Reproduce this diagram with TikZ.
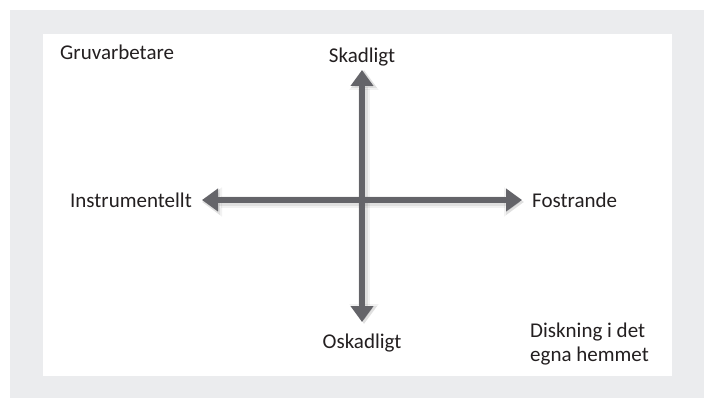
\documentclass[tikz,border=0pt]{standalone}
\usepackage{fontspec}
\setmainfont{Carlito}
\usetikzlibrary{arrows.meta}
\definecolor{bggrey}{HTML}{EBECEE}
\definecolor{axisgrey}{HTML}{646469}
\definecolor{txt}{HTML}{231F20}
\tikzset{
  lbl/.style={font=\fontsize{21}{24}\selectfont, text=txt, inner sep=0pt},
  axis/.style={draw=axisgrey, line width=6pt,
    {Triangle[width=22pt,length=16pt]}-{Triangle[width=22pt,length=16pt]}},
  axisshadowA/.style={draw=black, opacity=0.05, line width=12pt,
    {Triangle[width=28pt,length=20pt]}-{Triangle[width=28pt,length=20pt]}},
  axisshadowB/.style={draw=black, opacity=0.07, line width=8pt,
    {Triangle[width=25pt,length=18pt]}-{Triangle[width=25pt,length=18pt]}}
}
\begin{document}
\begin{tikzpicture}[x=1pt,y=-1pt]
\useasboundingbox (0,0) rectangle (704,398);
\fill[white] (0,0) rectangle (704,398);
\fill[bggrey] (10,10) rectangle (704,398);
\fill[white] (43,34) rectangle (672,376);
\coordinate (vt) at (362,70);
\coordinate (vb) at (362,322);
\coordinate (hl) at (202,200);
\coordinate (hr) at (522,200);
\coordinate (vts) at (364,70);
\coordinate (vbs) at (364,324);
\coordinate (hls) at (202,202);
\coordinate (hrs) at (524,202);
\draw[axisshadowA] (vts) -- (vbs);
\draw[axisshadowA] (hls) -- (hrs);
\draw[axisshadowB] (vts) -- (vbs);
\draw[axisshadowB] (hls) -- (hrs);
\draw[axis] (vt) -- (vb);
\draw[axis] (hl) -- (hr);
\node[lbl, anchor=west] (gruv) at (60,52) {Gruvarbetare};
\node[lbl] (skad) at (362,57) {Skadligt};
\node[lbl, anchor=east] (instr) at (192,200) {Instrumentellt};
\node[lbl, anchor=west] (fost) at (532,200) {Fostrande};
\node[lbl] (oskad) at (362,343) {Oskadligt};
\node[lbl, anchor=north west, align=left] (disk) at (530,323) {Diskning i det\\egna hemmet};
\end{tikzpicture}
\end{document}
